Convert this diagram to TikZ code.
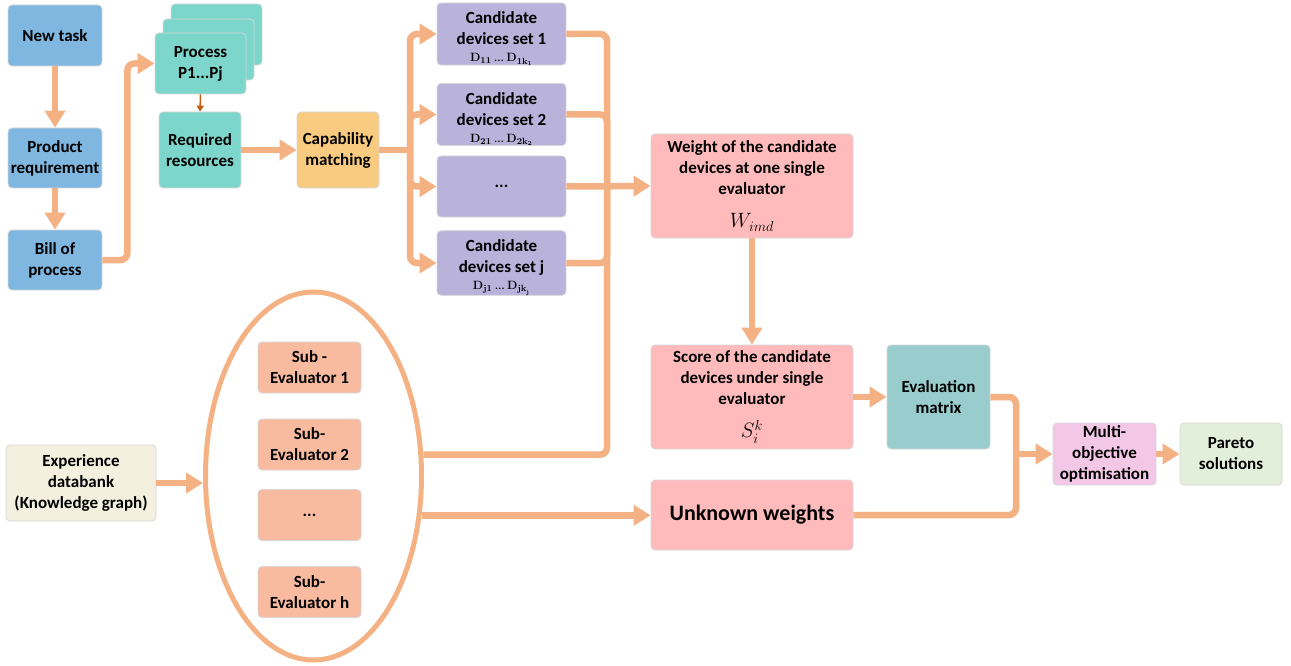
\documentclass[tikz,border=0pt]{standalone}
\usepackage[no-math]{fontspec}
\setmainfont{Carlito}
\usetikzlibrary{arrows.meta,shapes.geometric,calc}

\definecolor{flow}{HTML}{F4B183}
\definecolor{flowdark}{HTML}{C55A11}
\definecolor{taskblue}{HTML}{7FB7E0}
\definecolor{proccyan}{HTML}{7DD6CC}
\definecolor{capyellow}{HTML}{F9CB80}
\definecolor{candpurple}{HTML}{B9B3DB}
\definecolor{evalpink}{HTML}{FFBBBB}
\definecolor{matteal}{HTML}{99CCCC}
\definecolor{optpink}{HTML}{F3C8E6}
\definecolor{paretogreen}{HTML}{E2EFDA}
\definecolor{expbeige}{HTML}{F3F0DF}
\definecolor{subsalmon}{HTML}{F8BBA0}

\newcommand{\devline}[1]{{\normalfont\fontsize{13}{13}\selectfont#1}}
\newcommand{\bigmath}[1]{{\normalfont\fontsize{21}{22}\selectfont#1}}
\newcommand{\toppad}{\rule{0pt}{21pt}}

\tikzset{
  box/.style={draw=black!16, line width=0.8pt, rounded corners=4pt, align=center,
    inner sep=0pt, font=\bfseries\fontsize{17}{21}\selectfont},
  flowline/.style={draw=flow, line width=6.5pt, rounded corners=7pt},
  flowarrow/.style={flowline, -{Triangle[length=17pt,width=20pt]}},
  thinarrow/.style={draw=flowdark, line width=1.5pt, -{Triangle[length=6pt,width=7pt]}},
}

\begin{document}
\begin{tikzpicture}[x=1pt,y=-1pt]
\useasboundingbox (0,0) rectangle (1291,666);

% task chain
\node[box, fill=taskblue, minimum width=94pt, minimum height=61pt] (task) at (55,35.5) {New task};
\node[box, fill=taskblue, minimum width=94pt, minimum height=60pt] (prod) at (55,158) {Product\\requirement};
\node[box, fill=taskblue, minimum width=94pt, minimum height=60pt] (bill) at (55,260) {Bill of\\process};

% stacked process cards
\node[box, fill=proccyan, minimum width=91pt, minimum height=61pt] (proc3) at (216.5,34.5) {};
\node[box, fill=proccyan, minimum width=91pt, minimum height=61pt] (proc2) at (208.5,49.5) {};
\node[box, fill=proccyan, minimum width=91pt, minimum height=61pt] (proc) at (200.5,63.5) {Process\\P1...Pj};

\node[box, fill=proccyan, minimum width=82pt, minimum height=76pt] (req) at (200,150) {Required\\resources};
\node[box, fill=capyellow, minimum width=82pt, minimum height=76pt] (cap) at (338,150) {Capability\\matching};

% candidate device sets
\node[box, fill=candpurple, minimum width=129pt, minimum height=60pt] (c1) at (501.5,34)
  {\toppad Candidate\\devices set 1\\[-4pt]\devline{$\mathbf{D}_{\mathbf{11}}$ \dots{} $\mathbf{D}_{\mathbf{1k}_{\mathbf{1}}}$}};
\node[box, fill=candpurple, minimum width=129pt, minimum height=61pt] (c2) at (501.5,114.5)
  {\toppad Candidate\\devices set 2\\[-4pt]\devline{$\mathbf{D}_{\mathbf{21}}$ \dots{} $\mathbf{D}_{\mathbf{2k}_{\mathbf{2}}}$}};
\node[box, fill=candpurple, minimum width=129pt, minimum height=61pt] (cd) at (501.5,186.5) {...};
\node[box, fill=candpurple, minimum width=129pt, minimum height=60pt] (cj) at (501.5,263)
  {\toppad Candidate\\devices set j\\[-4pt]\devline{$\mathbf{D}_{\mathbf{j1}}$ \dots{} $\mathbf{D}_{\mathbf{jk}_{\mathbf{j}}}$}};

% evaluation boxes
\node[box, fill=evalpink, minimum width=202pt, minimum height=104pt] (wt) at (752,186)
  {Weight of the candidate\\devices at one single\\evaluator\\[12pt]\bigmath{$W_{imd}$}};
\node[box, fill=evalpink, minimum width=202pt, minimum height=104pt] (sc) at (752,397)
  {Score of the candidate\\devices under single\\evaluator\\[12pt]\bigmath{$S_i^k$}};
\node[box, fill=matteal, minimum width=103pt, minimum height=104pt] (em) at (938.5,397) {Evaluation\\matrix};
\node[box, fill=evalpink, minimum width=202pt, minimum height=70pt, font=\bfseries\fontsize{22}{26}\selectfont] (uw) at (752,515) {Unknown weights};
\node[box, fill=optpink, minimum width=103pt, minimum height=62pt] (mo) at (1104.5,454) {Multi-\\objective\\optimisation};
\node[box, fill=paretogreen, minimum width=102pt, minimum height=62pt] (pa) at (1231,454) {Pareto\\solutions};

% knowledge source and sub-evaluators
\node[box, fill=expbeige, minimum width=150pt, minimum height=76pt] (exp) at (81,483) {Experience\\databank\\(Knowledge graph)};
\node[draw=flow, line width=5pt, ellipse, minimum width=216pt, minimum height=368pt, inner sep=0pt] (ell) at (313.5,476) {};
\node[box, fill=subsalmon, minimum width=103pt, minimum height=51pt] (s1) at (309.5,367.5) {Sub -\\Evaluator 1};
\node[box, fill=subsalmon, minimum width=103pt, minimum height=51pt] (s2) at (309.5,444.5) {Sub-\\Evaluator 2};
\node[box, fill=subsalmon, minimum width=103pt, minimum height=51pt] (s3) at (309.5,515) {...};
\node[box, fill=subsalmon, minimum width=103pt, minimum height=51pt] (sh) at (309.5,592) {Sub-\\Evaluator h};

% junction points of the buses
\coordinate (lb) at (410,150);
\coordinate (rb) at (607,186);
\coordinate (mb) at (1016,454);

% connectors
\draw[flowarrow] (task.south) -- (prod.north);
\draw[flowarrow] (prod.south) -- (bill.north);
\draw[flowarrow] (bill.east) -- ++(25,0) |- (proc.west);
\draw[thinarrow] (proc.south) -- (req.north);
\draw[flowarrow] (req.east) -- (cap.west);

\draw[flowline] (cap.east) -- (lb);
\draw[flowarrow] (lb) |- (c1.west);
\draw[flowarrow] (lb) |- (c2.west);
\draw[flowarrow] (lb) |- (cd.west);
\draw[flowarrow] (lb) |- (cj.west);

\draw[flowline] (c1.east) -| (rb);
\draw[flowline] (c2.east) -| (rb);
\draw[flowline] (cj.east) -| (rb);
\draw[flowline] (ell.11) -| (rb);
\draw[flowarrow] (cd.east) -- (wt.west);

\draw[flowarrow] (wt.south) -- (sc.north);
\draw[flowarrow] (sc.east) -- (em.west);
\draw[flowarrow] (ell.-20) -- (ell.-20 -| uw.west);
\draw[flowarrow] (exp.east) -- (exp.east -| ell.west);

\draw[flowline] (em.east) -| (mb);
\draw[flowline] (uw.east) -| (mb);
\draw[flowarrow] (mb) -- (mo.west);
\draw[flowarrow] (mo.east) -- (pa.west);
\end{tikzpicture}
\end{document}
